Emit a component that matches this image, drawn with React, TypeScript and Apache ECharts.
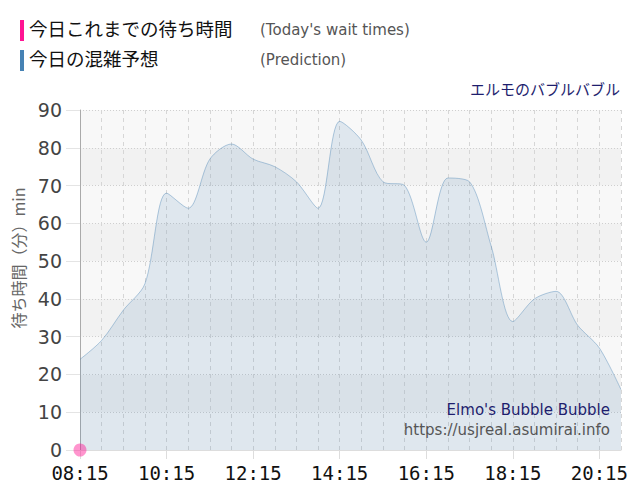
import * as echarts from 'echarts';
import { useEffect, useRef } from 'react';

// 30分ごとの時刻
const times = [
  '08:15', '08:45', '09:15', '09:45', '10:15', '10:45', '11:15', '11:45',
  '12:15', '12:45', '13:15', '13:45', '14:15', '14:45', '15:15', '15:45',
  '16:15', '16:45', '17:15', '17:45', '18:15', '18:45', '19:15', '19:45',
  '20:15', '20:45',
];

// 今日の混雑予想
const prediction = [
  24, 29, 37, 44, 68, 64, 77, 81, 77, 75, 71, 64, 87, 82, 71, 70, 55, 72, 71,
  54, 34, 40, 42, 33, 27, 16,
];

// 今日これまでの待ち時間
const today: (number | null)[] = [0];

const yTicks = [0, 10, 20, 30, 40, 50, 60, 70, 80, 90];

const JP = '"Noto Sans CJK JP", sans-serif';
const NUM = '"DejaVu Sans", sans-serif';
const MONO = '"DejaVu Sans Mono", monospace';

const App: React.FC = () => {
  const chartRef = useRef<HTMLDivElement>(null);

  useEffect(() => {
    if (!chartRef.current) return;
    const chart = echarts.init(chartRef.current, undefined, { renderer: 'svg' });
    chart.setOption({
      animation: false,
      backgroundColor: '#fff',
      grid: { left: 80, right: 19, top: 110, bottom: 50 },
      xAxis: {
        type: 'category',
        data: times,
        boundaryGap: false,
        axisLine: { show: true, lineStyle: { color: '#ddd' } },
        axisTick: { show: true, interval: 3, length: 9, lineStyle: { color: '#ddd' } },
        axisLabel: {
          interval: 3,
          color: '#111',
          fontSize: 19,
          fontFamily: MONO,
          margin: 13,
        },
        splitLine: {
          show: true,
          interval: 0,
          lineStyle: { color: '#d6d6d6', type: [4, 4] },
        },
      },
      yAxis: {
        type: 'value',
        min: yTicks[0],
        max: yTicks[yTicks.length - 1],
        interval: 10,
        axisLine: { show: true, lineStyle: { color: '#aaa' } },
        axisTick: { show: true, length: 14, lineStyle: { color: '#e4e4e4' } },
        axisLabel: { color: '#444', fontSize: 19, fontFamily: NUM, margin: 18 },
        splitLine: { show: true, lineStyle: { color: '#cfcfcf', type: [1, 2] } },
        splitArea: { show: true, areaStyle: { color: ['#f8f8f8', '#f2f2f2'] } },
      },
      series: [
        {
          name: '今日の混雑予想',
          type: 'line',
          data: prediction,
          smooth: 0.3,
          symbol: 'none',
          lineStyle: { color: 'rgba(70,130,180,0.4)', width: 1 },
          areaStyle: { color: 'rgba(70,130,180,0.2)' },
          z: 2,
        },
        {
          name: '今日これまでの待ち時間',
          type: 'line',
          data: today,
          symbol: 'circle',
          symbolSize: 13,
          itemStyle: { color: 'rgba(255,20,147,0.45)' },
          lineStyle: { color: 'rgba(255,20,147,0.6)' },
          z: 3,
        },
      ],
      graphic: [
        { type: 'rect', left: 20, top: 20, z: 100, shape: { width: 4, height: 21 }, style: { fill: '#ff1493' } },
        { type: 'rect', left: 20, top: 50, z: 100, shape: { width: 4, height: 21 }, style: { fill: '#4682b4' } },
        {
          type: 'text', left: 29, top: 19, z: 100,
          style: { text: '今日これまでの待ち時間', fontSize: 18.5, fontFamily: JP, fill: '#111' },
        },
        {
          type: 'text', left: 29, top: 49, z: 100,
          style: { text: '今日の混雑予想', fontSize: 18.5, fontFamily: JP, fill: '#111' },
        },
        {
          type: 'text', left: 260, top: 22, z: 100,
          style: { text: "(Today's wait times)", fontSize: 15, fontFamily: NUM, fill: '#555' },
        },
        {
          type: 'text', left: 260, top: 52, z: 100,
          style: { text: '(Prediction)', fontSize: 15, fontFamily: NUM, fill: '#555' },
        },
        {
          type: 'text', right: 20, top: 81, z: 100,
          style: { text: 'エルモのバブルバブル', fontSize: 15, fontFamily: JP, fill: '#1e1e6e' },
        },
        {
          type: 'text', right: 30, top: 402, z: 100,
          style: { text: "Elmo's Bubble Bubble", fontSize: 15, fontFamily: NUM, fill: '#1e1e6e' },
        },
        {
          type: 'text', right: 30, top: 422, z: 100,
          style: { text: 'https://usjreal.asumirai.info', fontSize: 15, fontFamily: NUM, fill: '#555' },
        },
        {
          type: 'text', x: 18, y: 258, rotation: Math.PI / 2, z: 100,
          style: {
            text: '待ち時間（分）min', fontSize: 16, fontFamily: JP, fill: '#666',
            align: 'center', verticalAlign: 'middle',
          },
        },
      ],
    });
    return () => chart.dispose();
  }, []);

  return <div ref={chartRef} style={{ width: 640, height: 500, margin: -8 }} />;
};

export default App;
